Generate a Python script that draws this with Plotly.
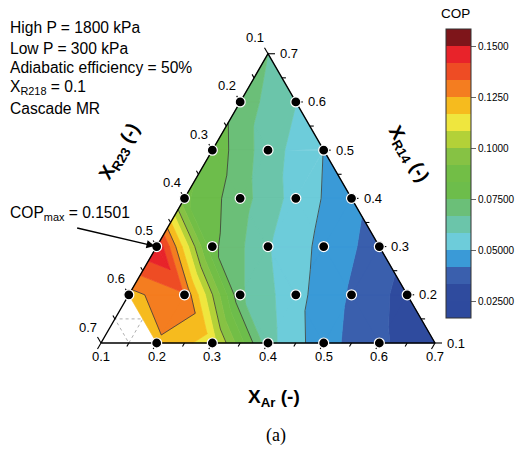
import math
import plotly.graph_objects as go

nan = float("nan")

# ---------------- data ----------------
ar_values = [0.1, 0.2, 0.3, 0.4, 0.5, 0.6, 0.7]      # X_Ar along a row
r14_values = [0.1, 0.2, 0.3, 0.4, 0.5, 0.6, 0.7]     # X_R14 of each row
# COP at each composition (row = X_R14, column = X_Ar); X_R23 = 0.9 - X_Ar - X_R14
cop_r14_01 = [nan, 0.1235, 0.113, 0.061, 0.0447, 0.035, 0.026]
cop_r14_02 = [0.122, 0.1325, 0.068, 0.0526, 0.0406, 0.030]
cop_r14_03 = [0.1501, 0.077, 0.059, 0.0476, 0.0377]
cop_r14_04 = [0.085, 0.070, 0.055, 0.044]
cop_r14_05 = [0.0804, 0.062, 0.0499]
cop_r14_06 = [0.071, 0.0585]
cop_r14_07 = [0.0667]

axis_ticks = [0.1, 0.2, 0.3, 0.4, 0.5, 0.6, 0.7]
cbar_tickvals = [0.025, 0.05, 0.075, 0.1, 0.125, 0.15]
cbar_ticktext = ["0.02500", "0.05000", "0.07500", "0.1000", "0.1250", "0.1500"]
line_levels = [0.025, 0.05, 0.075, 0.1, 0.125, 0.15]
band_colors = ["#2E4A9E", "#2F4B9E", "#3A5FAD", "#3A9AD7", "#6DCCDA", "#6BC5AA",
               "#6BBF78", "#6DBD4B", "#72BE46", "#86C244", "#B3D138", "#EFE63E",
               "#F6BB1E", "#F47D20", "#EE4C24", "#E8232A", "#7E151A"]
info_lines = ["High P = 1800 kPa", "Low P = 300 kPa", "Adiabatic efficiency = 50%",
              "X<sub>R218</sub> = 0.1", "Cascade MR"]

cop_rows = [cop_r14_01, cop_r14_02, cop_r14_03, cop_r14_04, cop_r14_05, cop_r14_06, cop_r14_07]
band_edges = [1 / 60 + n / 120 for n in range(len(band_colors) + 1)]

# ---------------- geometry ----------------
LO, SPAN = 0.1, 0.6
PX = 1 / 334.0  # data units per pixel
S3 = math.sqrt(3) / 2


def to_xy(ar, r14):
    u = (ar - LO) / SPAN
    w = (r14 - LO) / SPAN
    return u + 0.5 * w, w * S3


pts = {}
for k, row in enumerate(cop_rows):
    for i, v in enumerate(row):
        x, y = to_xy(ar_values[i], r14_values[k])
        pts[(i, k)] = (x, y, v)

tris = []
n = len(ar_values) - 1
for k in range(n):
    for i in range(n - k):
        tris.append([(i, k), (i + 1, k), (i, k + 1)])
    for i in range(n - k - 1):
        tris.append([(i + 1, k), (i + 1, k + 1), (i, k + 1)])


def clip(poly, level, keep_above):
    out = []
    m = len(poly)
    for a in range(m):
        P, Q = poly[a], poly[(a + 1) % m]
        pin = (P[2] >= level) if keep_above else (P[2] <= level)
        qin = (Q[2] >= level) if keep_above else (Q[2] <= level)
        if pin:
            out.append(P)
        if pin != qin:
            t = (level - P[2]) / (Q[2] - P[2])
            out.append((P[0] + t * (Q[0] - P[0]), P[1] + t * (Q[1] - P[1]), level))
    return out


fig = go.Figure()

# filled bands
valid_tris = [t for t in tris if not any(math.isnan(pts[p][2]) for p in t)]
nan_tris = [t for t in tris if any(math.isnan(pts[p][2]) for p in t)]
for b, col in enumerate(band_colors):
    lo, hi = band_edges[b], band_edges[b + 1]
    xs, ys = [], []
    for t in valid_tris:
        poly = [pts[p] for p in t]
        vals = [p[2] for p in poly]
        if max(vals) < lo or min(vals) > hi:
            continue
        poly = clip(poly, lo, True)
        if len(poly) < 3:
            continue
        poly = clip(poly, hi, False)
        if len(poly) < 3:
            continue
        xs += [p[0] for p in poly] + [poly[0][0], None]
        ys += [p[1] for p in poly] + [poly[0][1], None]
    if xs:
        fig.add_trace(go.Scatter(x=xs, y=ys, mode="lines", fill="toself", fillcolor=col,
                                 line=dict(color=col, width=0.7), hoverinfo="skip",
                                 showlegend=False))

# contour lines
cx, cy = [], []
for t in valid_tris:
    poly = [pts[p] for p in t]
    for L in line_levels:
        seg = []
        for a in range(3):
            P, Q = poly[a], poly[(a + 1) % 3]
            if (P[2] >= L) != (Q[2] >= L):
                s = (L - P[2]) / (Q[2] - P[2])
                seg.append((P[0] + s * (Q[0] - P[0]), P[1] + s * (Q[1] - P[1])))
        if len(seg) == 2:
            cx += [seg[0][0], seg[1][0], None]
            cy += [seg[0][1], seg[1][1], None]
fig.add_trace(go.Scatter(x=cx, y=cy, mode="lines", line=dict(color="#3a3a3a", width=0.8),
                         hoverinfo="skip", showlegend=False))

# dotted mesh in the empty cell
dx, dy = [], []
for t in nan_tris:
    mids = []
    for a in range(3):
        P, Q = pts[t[a]], pts[t[(a + 1) % 3]]
        mids.append(((P[0] + Q[0]) / 2, (P[1] + Q[1]) / 2))
    dx += [m[0] for m in mids] + [mids[0][0], None]
    dy += [m[1] for m in mids] + [mids[0][1], None]
fig.add_trace(go.Scatter(x=dx, y=dy, mode="lines", line=dict(color="#b0b0b0", width=1, dash="dot"),
                         hoverinfo="skip", showlegend=False))

# triangle outline
corners = [to_xy(0.1, 0.1), to_xy(0.7, 0.1), to_xy(0.1, 0.7)]
fig.add_trace(go.Scatter(x=[c[0] for c in corners] + [corners[0][0]],
                         y=[c[1] for c in corners] + [corners[0][1]], mode="lines",
                         line=dict(color="black", width=1.4), hoverinfo="skip", showlegend=False))

# ticks
tx, ty = [], []
annotations = []
tick_font = dict(family="Liberation Sans, Arial", size=13, color="black")
minor = [round(v + 0.05, 2) for v in axis_ticks[:-1]]
edges = [
    ("ar", (-0.5, -S3), lambda v: to_xy(v, 0.1)),
    ("r23", (-0.5, S3), lambda v: to_xy(0.1, 0.9 - 0.1 - v)),
    ("r14", (1.0, 0.0), lambda v: to_xy(0.8 - v, v)),
]
for name, d, f in edges:
    for v, ln in [(v, 7) for v in axis_ticks] + [(v, 4) for v in minor]:
        x0, y0 = f(v)
        tx += [x0, x0 + d[0] * ln * PX, None]
        ty += [y0, y0 + d[1] * ln * PX, None]
    for v in axis_ticks:
        x0, y0 = f(v)
        lab = f"{v:.1f}"
        if name == "ar":
            annotations.append(dict(x=x0, y=y0, text=lab, showarrow=False, yshift=-13,
                                    xanchor="center", yanchor="middle", font=tick_font))
        elif name == "r23":
            annotations.append(dict(x=x0, y=y0, text=lab, showarrow=False, xshift=-13, yshift=16,
                                    xanchor="center", yanchor="middle", font=tick_font))
        else:
            annotations.append(dict(x=x0, y=y0, text=lab, showarrow=False, xshift=10,
                                    xanchor="left", yanchor="middle", font=tick_font))
fig.add_trace(go.Scatter(x=tx, y=ty, mode="lines", line=dict(color="black", width=1.1),
                         hoverinfo="skip", showlegend=False))

# data points (vertices of the composition triangle carry no marker)
mx, my = [], []
for (i, k), (x, y, v) in pts.items():
    ar, r14 = ar_values[i], r14_values[k]
    r23 = 0.9 - ar - r14
    if max(ar, r14, r23) > 0.65 or math.isnan(v):
        continue
    mx.append(x)
    my.append(y)
fig.add_trace(go.Scatter(x=mx, y=my, mode="markers",
                         marker=dict(size=10, color="black", line=dict(color="white", width=1.2)),
                         hoverinfo="skip", showlegend=False))

# colorbar
cscale = []
nb = len(band_colors)
for b, col in enumerate(band_colors):
    cscale.append([b / nb, col])
    cscale.append([(b + 1) / nb, col])
fig.add_trace(go.Scatter(
    x=[mx[0]], y=[my[0]], mode="markers",
    marker=dict(size=0.1, opacity=0, color=[band_edges[0]], colorscale=cscale,
                cmin=band_edges[0], cmax=band_edges[-1], showscale=True,
                colorbar=dict(
                    x=446 / 519, xanchor="left", xpad=0, ypad=0,
                    y=1 - 173.5 / 450, yanchor="middle",
                    lenmode="pixels", len=289, thicknessmode="pixels", thickness=25,
                    outlinewidth=1, outlinecolor="#333333",
                    tickvals=cbar_tickvals, ticktext=cbar_ticktext,
                    ticks="outside", ticklen=5, tickcolor="#666666",
                    tickfont=dict(family="Liberation Sans, Arial", size=10, color="black"),
                )),
    hoverinfo="skip", showlegend=False))
annotations.append(dict(xref="paper", yref="paper", x=455 / 519, y=1 - 14 / 450, text="COP",
                        showarrow=False, xanchor="center", yanchor="middle",
                        font=dict(family="Liberation Sans, Arial", size=13.5, color="black")))

# info text
info_y = [28, 48.5, 68, 87.5, 108.5]
for txt, py in zip(info_lines, info_y):
    annotations.append(dict(xref="paper", yref="paper", x=8 / 519, y=1 - py / 450, text=txt,
                            showarrow=False, xanchor="left", yanchor="middle",
                            font=dict(family="Liberation Sans, Arial", size=15.6, color="black")))

# COPmax annotation
best = max((p for p in pts.values() if not math.isnan(p[2])), key=lambda p: p[2])
annotations.append(dict(x=best[0], y=best[1], text="", showarrow=True, ax=-81, ay=-19,
                        arrowhead=2, arrowsize=1.1, arrowwidth=1.5, arrowcolor="black", standoff=2))
annotations.append(dict(xref="paper", yref="paper", x=8 / 519, y=1 - 213 / 450,
                        text=f"COP<sub>max</sub> = {best[2]:.4f}", showarrow=False,
                        xanchor="left", yanchor="middle",
                        font=dict(family="Liberation Sans, Arial", size=15.6, color="black")))

# axis titles
title_font = dict(family="Liberation Sans, Arial", size=19, color="black")
bx, by = to_xy(0.4, 0.1)
annotations.append(dict(x=bx, y=by, text="<b>X<sub>Ar</sub> (-)</b>", showarrow=False,
                        xshift=6, yshift=-55, xanchor="center", yanchor="middle", font=title_font))
lx, ly = to_xy(0.1, 0.4)
annotations.append(dict(x=lx, y=ly, text="<b>X<sub>R23</sub> (-)</b>", showarrow=False,
                        xshift=-64, yshift=46, textangle=-60, xanchor="center", yanchor="middle",
                        font=title_font))
rx, ry = to_xy(0.4, 0.4)
annotations.append(dict(x=rx, y=ry, text="<b>X<sub>R14</sub> (-)</b>", showarrow=False,
                        xshift=56, yshift=44, textangle=60, xanchor="center", yanchor="middle",
                        font=title_font))
annotations.append(dict(xref="paper", yref="paper", x=276 / 519, y=1 - 435 / 450, text="(a)",
                        showarrow=False, xanchor="center", yanchor="middle",
                        font=dict(family="Liberation Serif, Times New Roman", size=18, color="black")))

fig.update_layout(
    width=519, height=450, margin=dict(l=0, r=0, t=0, b=0),
    paper_bgcolor="white", plot_bgcolor="white",
    xaxis=dict(visible=False, range=[-101 * PX, (519 - 101) * PX], fixedrange=True),
    yaxis=dict(visible=False, range=[-(450 - 343) * PX, 343 * PX], fixedrange=True),
    annotations=annotations, showlegend=False,
)
fig.write_html("out.html")
